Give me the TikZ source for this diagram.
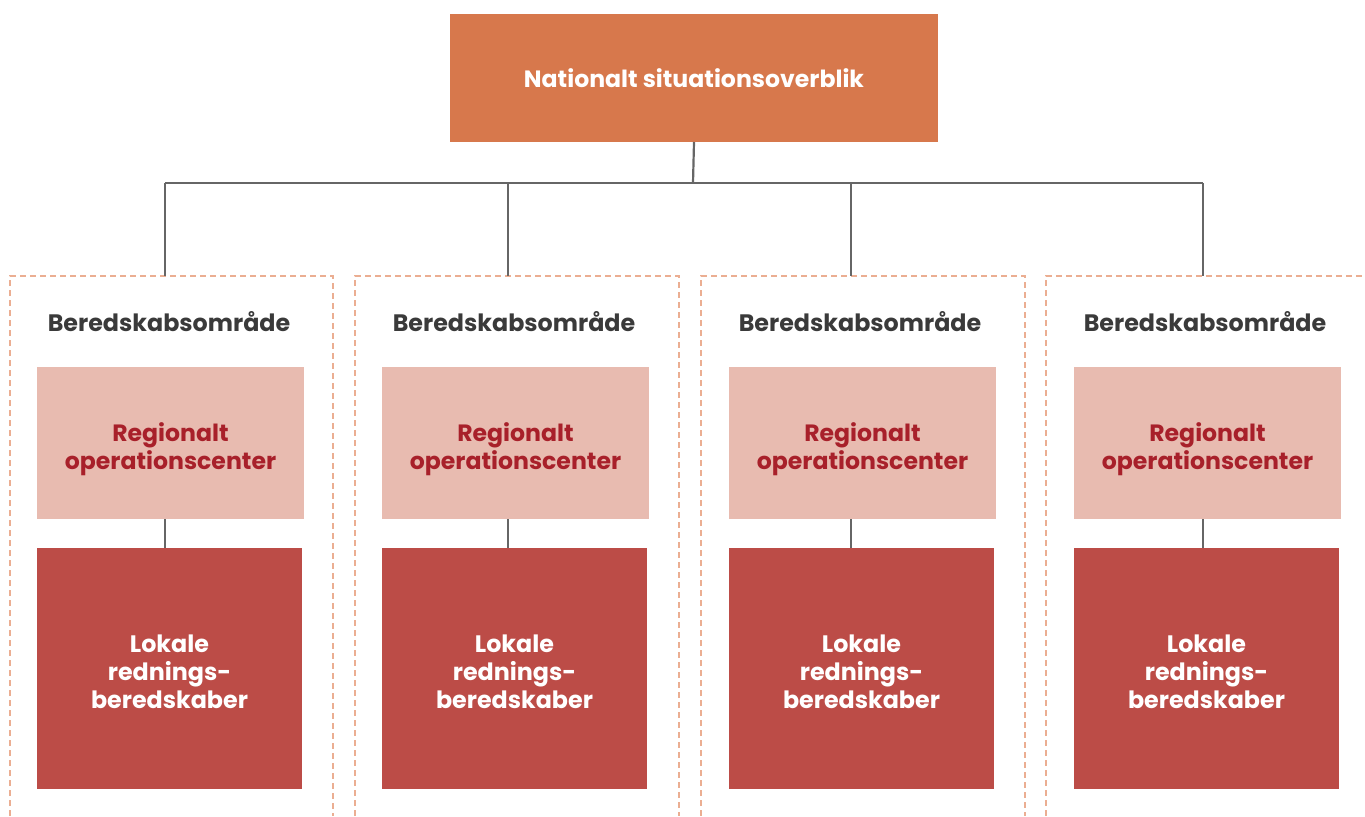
\documentclass[tikz,border=0pt]{standalone}
\usepackage{fontspec}
\setmainfont{Poppins}
\usepackage{tikz}

\definecolor{natorange}{HTML}{D7784C}
\definecolor{regpink}{HTML}{E8BBB0}
\definecolor{regtext}{HTML}{A8202A}
\definecolor{lokred}{HTML}{BC4C47}
\definecolor{framesalmon}{HTML}{EBAE92}
\definecolor{linkgray}{HTML}{666666}
\definecolor{headgray}{HTML}{3A3A3A}

\newcommand{\regtxt}{\rule{0pt}{15.8pt}Regionalt\\operationscenter}
\newcommand{\loktxt}{\rule{0pt}{12pt}Lokale\\rednings-\\beredskaber}

\tikzset{
  natbox/.style={fill=natorange, text=white, font=\bfseries\fontsize{11.8}{14}\selectfont,
    minimum width=244pt, minimum height=64pt, inner sep=0pt, outer sep=0pt},
  regbox/.style={fill=regpink, text=regtext, font=\bfseries\fontsize{11.8}{14}\selectfont,
    align=center, minimum width=133.5pt, minimum height=76pt, inner sep=0pt, outer sep=0pt},
  lokbox/.style={fill=lokred, text=white, font=\bfseries\fontsize{11.9}{13.8}\selectfont,
    align=center, minimum width=132.5pt, minimum height=120.5pt, inner sep=0pt, outer sep=0pt},
  areahead/.style={text=headgray, font=\bfseries\fontsize{11.9}{14}\selectfont, inner sep=0pt},
  areaframe/.style={draw=framesalmon, line width=1.3pt, dash pattern=on 3pt off 2pt},
  link/.style={draw=linkgray, line width=1.1pt}
}

\begin{document}
\begin{tikzpicture}[x=0.5pt, y=-0.5pt]
\useasboundingbox (0,0) rectangle (1365,816);

% frames, open at the bottom
\draw[areaframe] (10,816)--(10,276)--(333,276)--(333,816);
\draw[areaframe] (355,816)--(355,276)--(679,276)--(679,816);
\draw[areaframe] (701,816)--(701,276)--(1025,276)--(1025,816);
\draw[areaframe] (1046,816)--(1046,276)--(1366,276);

\node[natbox] (nat) at (694,78) {Nationalt situationsoverblik};

\coordinate (bus) at (693,183);
\coordinate (f1) at (165,276);
\coordinate (f2) at (508,276);
\coordinate (f3) at (851,276);
\coordinate (f4) at (1203,276);

\node[areahead] (h1) at (169,322) {Beredskabsområde};
\node[areahead] (h2) at (514,322) {Beredskabsområde};
\node[areahead] (h3) at (860,322) {Beredskabsområde};
\node[areahead] (h4) at (1205,322) {Beredskabsområde};

\node[regbox] (reg1) at (170.5,443) {\regtxt};
\node[regbox] (reg2) at (515.5,443) {\regtxt};
\node[regbox] (reg3) at (862.5,443) {\regtxt};
\node[regbox] (reg4) at (1207.5,443) {\regtxt};

\node[lokbox] (lok1) at (169.5,668.5) {\loktxt};
\node[lokbox] (lok2) at (514.5,668.5) {\loktxt};
\node[lokbox] (lok3) at (861.5,668.5) {\loktxt};
\node[lokbox] (lok4) at (1206.5,668.5) {\loktxt};

% tree
\draw[link] (nat.south) -- (bus);
\draw[link] (f1 |- bus) -- (f4 |- bus);
\draw[link] (f1 |- bus) -- (f1);
\draw[link] (f2 |- bus) -- (f2);
\draw[link] (f3 |- bus) -- (f3);
\draw[link] (f4 |- bus) -- (f4);

\draw[link] (reg1.south -| f1) -- (lok1.north -| f1);
\draw[link] (reg2.south -| f2) -- (lok2.north -| f2);
\draw[link] (reg3.south -| f3) -- (lok3.north -| f3);
\draw[link] (reg4.south -| f4) -- (lok4.north -| f4);
\end{tikzpicture}
\end{document}
